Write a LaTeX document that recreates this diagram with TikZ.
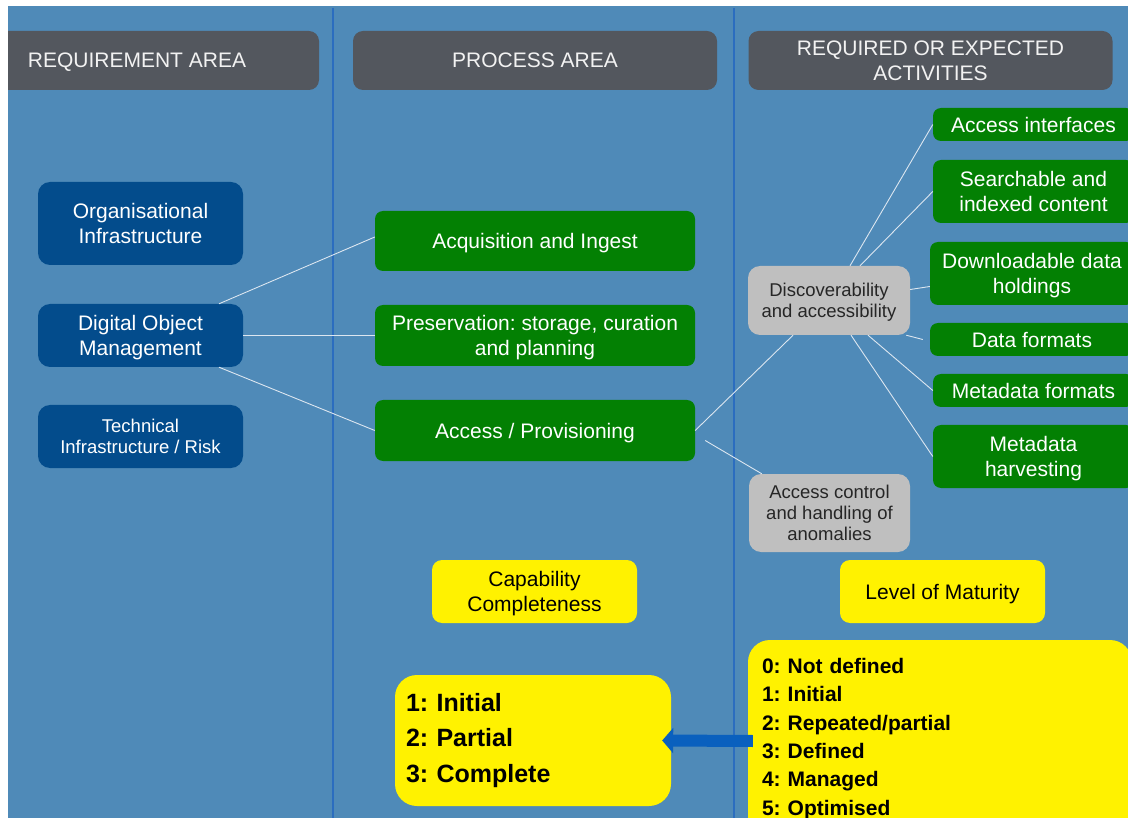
\documentclass[tikz,border=0pt]{standalone}
\usepackage{fontspec}
\setmainfont{Liberation Sans}
\usetikzlibrary{arrows.meta}
\definecolor{bgblue}{HTML}{4F8AB8}
\definecolor{rulerblue}{HTML}{2B6DBF}
\definecolor{hdgray}{HTML}{53575E}
\definecolor{hdtext}{HTML}{F2F2F2}
\definecolor{areablue}{HTML}{034C8C}
\definecolor{procgreen}{HTML}{038003}
\definecolor{boxgray}{HTML}{BFBFBF}
\definecolor{graytext}{HTML}{262626}
\definecolor{linkwhite}{HTML}{DCE6F0}
\definecolor{arrowblue}{HTML}{0A60BE}
\frenchspacing

\begin{document}
\begin{tikzpicture}[x=1pt,y=-1pt,
    header/.style={fill=hdgray,text=hdtext,rounded corners=10pt,minimum width=364pt,
        minimum height=59pt,align=center,text depth=0pt,font=\fontsize{21}{25}\selectfont},
    area/.style={fill=areablue,text=white,rounded corners=12pt,minimum width=205pt,
        align=center,text depth=0pt,font=\fontsize{21}{25}\selectfont},
    proc/.style={fill=procgreen,text=white,rounded corners=8pt,minimum width=320pt,
        minimum height=61pt,align=center,text depth=0pt,font=\fontsize{21}{25}\selectfont},
    activity/.style={fill=procgreen,text=white,rounded corners=8pt,minimum width=201pt,
        align=center,text depth=0pt,font=\fontsize{21}{25}\selectfont},
    topic/.style={fill=boxgray,text=graytext,rounded corners=12pt,minimum width=162pt,
        align=center,text depth=0pt,font=\fontsize{18.5}{21}\selectfont},
    note/.style={fill=yellow,text=black,rounded corners=10pt,minimum width=205pt,
        minimum height=63pt,align=center,text depth=0pt,font=\fontsize{21}{25}\selectfont},
    scalebox/.style={fill=yellow,text=black,rounded corners=22pt,align=left,
        font=\bfseries},
    link/.style={draw=linkwhite,line width=0.9pt},
    bigarrow/.style={draw=arrowblue,line width=12pt,-{Triangle[length=11pt,width=25pt]}}]
    \useasboundingbox (0,0) rectangle (1128,818);
    \fill[bgblue] (8,6) rectangle (1128,818);
    \draw[rulerblue,line width=1.2pt] (333,8) -- (333,818);
    \draw[rulerblue,line width=1.2pt] (734,8) -- (734,818);

    \begin{scope}
        \clip (8,6) rectangle (1128,818);
        \node[header] (reqh) at (137,60.5) {REQUIREMENT AREA};
        \node[scalebox,minimum width=384pt,minimum height=198pt,text width=356pt,
            inner xsep=14pt,font=\bfseries\fontsize{21}{28.3}\selectfont] (levels) at (940,739)
            {0: Not defined\\1: Initial\\2: Repeated/partial\\3: Defined\\4: Managed\\5: Optimised};
    \end{scope}
    \node[header] (proch) at (535,60.5) {PROCESS AREA};
    \node[header] (acth) at (930.5,60.5) {REQUIRED OR EXPECTED\\ACTIVITIES};

    \node[area,minimum height=83pt] (org) at (140.5,223.5) {Organisational\\Infrastructure};
    \node[area,minimum height=63pt] (dom) at (140.5,335.5) {Digital Object\\Management};
    \node[area,minimum height=63pt,font=\fontsize{18.5}{21}\selectfont] (tech) at (140.5,436.5)
        {Technical\\Infrastructure / Risk};

    \node[proc,minimum height=60pt] (acq) at (535,241) {Acquisition and Ingest};
    \node[proc] (pres) at (535,335.5) {Preservation: storage, curation\\and planning};
    \node[proc] (acc) at (535,430.5) {Access / Provisioning};

    \node[activity,minimum height=33pt] (ai) at (1033.5,124.5) {Access interfaces};
    \node[activity,minimum height=63pt] (sic) at (1033.5,191.5) {Searchable and\\indexed content};
    \node[activity,minimum height=63pt,minimum width=204pt] (ddh) at (1032,273.5)
        {Downloadable data\\holdings};
    \node[activity,minimum height=33pt,minimum width=204pt] (df) at (1032,339.5) {Data formats};
    \node[activity,minimum height=33pt] (mf) at (1033.5,390.5) {Metadata formats};
    \node[activity,minimum height=63pt] (mh) at (1033.5,456.5) {Metadata\\harvesting};

    \node[topic,minimum height=69pt] (disc) at (829,300.5) {Discoverability\\and accessibility};
    \node[topic,minimum height=78pt,minimum width=161pt] (ctrl) at (829.5,513)
        {Access control\\and handling of\\anomalies};

    \node[note] (capc) at (534.5,591.5) {Capability\\Completeness};
    \node[note] (lom) at (942.5,591.5) {Level of Maturity};
    \node[scalebox,minimum width=276pt,minimum height=131pt,text width=254pt,inner xsep=11pt,
        font=\bfseries\fontsize{25}{35.5}\selectfont] (scale) at (533,740.5)
        {1: Initial\\2: Partial\\3: Complete};

    \draw[link] (dom.22) -- ([yshift=4pt]acq.west);
    \draw[link] (dom.east) -- (pres.west);
    \draw[link] (dom.-22) -- (acc.west);
    \draw[link] (acc.east) -- (disc.224);
    \draw[link] ([xshift=10pt,yshift=-10pt]acc.east) -- ([xshift=13pt]ctrl.north west);
    \draw[link] ([xshift=21pt]disc.north) -- (ai.west);
    \draw[link] ([xshift=31pt]disc.north) -- (sic.west);
    \draw[link] ([yshift=11pt]disc.east) -- ([yshift=-13pt]ddh.west);
    \draw[link] ([xshift=-4pt]disc.south east) -- ([xshift=-7pt]df.west);
    \draw[link] ([xshift=39pt]disc.south) -- (mf.west);
    \draw[link] ([xshift=22pt]disc.south) -- (mh.west);

    \draw[bigarrow] ([xshift=5pt,yshift=-2pt]levels.west) -- ([xshift=-9pt]scale.east);
\end{tikzpicture}
\end{document}
